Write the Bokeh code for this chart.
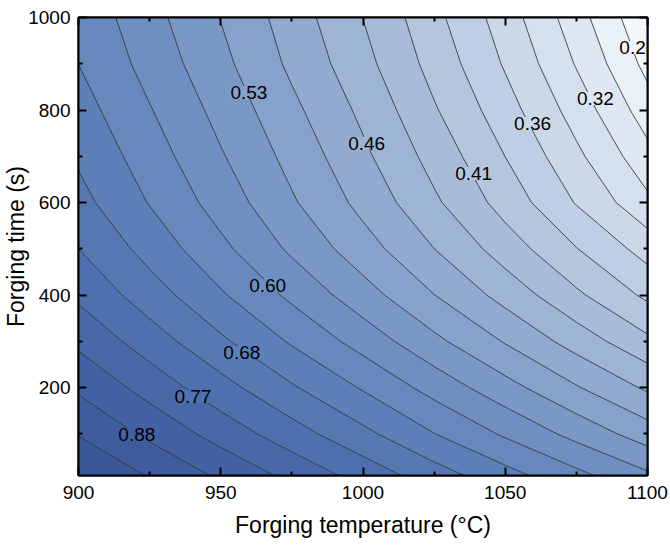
import numpy as np
from bokeh.plotting import figure
from bokeh.models import LinearAxis, Range1d, FixedTicker, ColumnDataSource
from bokeh.core.properties import value
from bokeh.embed import file_html
from bokeh.resources import INLINE

# ---- data ----
temperature = [900, 925, 950, 975, 1000, 1025, 1050, 1075, 1100]          # deg C (columns)
time_s = [10, 100, 200, 300, 400, 500, 600, 700, 800, 900, 1000]          # s (rows)
z_t10   = [0.995, 0.931, 0.867, 0.808, 0.753, 0.699, 0.652, 0.608, 0.567]
z_t100  = [0.931, 0.864, 0.801, 0.744, 0.690, 0.638, 0.592, 0.549, 0.509]
z_t200  = [0.867, 0.802, 0.741, 0.684, 0.633, 0.583, 0.538, 0.496, 0.458]
z_t300  = [0.811, 0.747, 0.687, 0.632, 0.582, 0.534, 0.491, 0.450, 0.413]
z_t400  = [0.762, 0.700, 0.642, 0.589, 0.540, 0.494, 0.452, 0.412, 0.377]
z_t500  = [0.724, 0.663, 0.607, 0.554, 0.507, 0.463, 0.421, 0.383, 0.349]
z_t600  = [0.693, 0.635, 0.581, 0.530, 0.484, 0.439, 0.397, 0.357, 0.320]
z_t700  = [0.673, 0.616, 0.564, 0.515, 0.469, 0.424, 0.382, 0.341, 0.302]
z_t800  = [0.654, 0.600, 0.549, 0.501, 0.456, 0.410, 0.368, 0.327, 0.286]
z_t900  = [0.637, 0.584, 0.535, 0.487, 0.443, 0.398, 0.356, 0.314, 0.272]
z_t1000 = [0.625, 0.573, 0.525, 0.478, 0.434, 0.389, 0.347, 0.304, 0.262]

# contour levels (ascending), with outer bounds
levels = [0.25, 0.2776, 0.2960, 0.3155, 0.3363, 0.3585, 0.3822, 0.4074, 0.4343,
          0.4629, 0.4935, 0.5260, 0.5607, 0.5977, 0.6372, 0.6792, 0.7240, 0.7718,
          0.8227, 0.8770, 0.9349, 1.01]

# contour labels
label_T = [920.5, 940.2, 957.4, 966.5, 959.9, 1001.3, 1038.9, 1059.6, 1081.7, 1096.6]
label_t = [98, 181, 276, 420, 838, 728, 663, 771, 825, 935]
label_text = ["0.88", "0.77", "0.68", "0.60", "0.53", "0.46", "0.41", "0.36", "0.32", "0.28"]
label_level = [0, 2, 4, 6, 8, 10, 12, 14, 16, 18]

x_ticks = [900, 950, 1000, 1050, 1100]
x_minor = [925, 975, 1025, 1075]
y_ticks = [200, 400, 600, 800, 1000]
y_minor = [100, 300, 500, 700, 900]

z = np.array([z_t10, z_t100, z_t200, z_t300, z_t400, z_t500,
              z_t600, z_t700, z_t800, z_t900, z_t1000])

# ---- colours (style) ----
anch_i = [-2, 1, 4, 7, 10, 13, 16, 19]
anch_rgb = np.array([(55, 85, 152), (68, 100, 165), (90, 124, 182), (115, 147, 196),
                     (152, 175, 210), (185, 202, 225), (218, 229, 240), (248, 250, 253)], float)
nb = len(levels) - 1
centers = [18.5 - j for j in range(nb)]
def col_at(ic):
    r = np.interp(ic, anch_i, anch_rgb[:, 0])
    g = np.interp(ic, anch_i, anch_rgb[:, 1])
    b = np.interp(ic, anch_i, anch_rgb[:, 2])
    return "#%02x%02x%02x" % (int(round(r)), int(round(g)), int(round(b)))
palette = [col_at(c) for c in centers]
label_bg = [col_at(k + 0.5) for k in label_level]

FONT = "Liberation Sans"

p = figure(width=670, height=545, x_range=Range1d(900, 1100), y_range=Range1d(10, 1000),
           output_backend="svg", toolbar_location=None,
           min_border_left=77, min_border_right=23, min_border_top=17, min_border_bottom=70,
           background_fill_color="white", border_fill_color="white")
p.grid.visible = False
p.outline_line_color = "black"
p.outline_line_width = 2

p.contour(x=temperature, y=time_s, z=z, levels=levels, fill_color=palette,
          line_color="#262626", line_width=0.8)

src = ColumnDataSource(dict(x=label_T, y=label_t, text=label_text, bg=label_bg))
p.text(x="x", y="y", text="text", source=src, text_font=value(FONT), text_font_size="19px",
       text_align="center", text_baseline="middle", text_color="black",
       background_fill_color="bg")

def style_axis(ax, ticks, minor, show_labels):
    ax.ticker = FixedTicker(ticks=ticks, minor_ticks=minor)
    ax.major_tick_in = 8
    ax.major_tick_out = 0
    ax.minor_tick_in = 4
    ax.minor_tick_out = 0
    ax.major_tick_line_width = 2
    ax.minor_tick_line_width = 2
    ax.axis_line_width = 2
    ax.axis_line_color = "black"
    ax.major_tick_line_color = "black"
    ax.minor_tick_line_color = "black"
    if show_labels:
        ax.major_label_text_font = FONT
        ax.major_label_text_font_size = "19px"
        ax.major_label_text_color = "black"
        ax.axis_label_text_font = FONT
        ax.axis_label_text_font_size = "23px"
        ax.axis_label_text_font_style = "normal"
        ax.axis_label_text_color = "black"
    else:
        ax.major_label_overrides = {float(t): "" for t in ticks}
        ax.major_label_standoff = 0

style_axis(p.xaxis[0], x_ticks, x_minor, True)
style_axis(p.yaxis[0], y_ticks, y_minor, True)
p.xaxis[0].major_label_standoff = 10
p.yaxis[0].major_label_standoff = 8
p.xaxis[0].axis_label = "Forging temperature (°C)"
p.yaxis[0].axis_label = "Forging time (s)"
p.xaxis[0].axis_label_standoff = 10
p.yaxis[0].axis_label_standoff = -4

top = LinearAxis()
right = LinearAxis()
style_axis(top, x_ticks, x_minor, False)
style_axis(right, y_ticks, y_minor, False)
p.add_layout(top, "above")
p.add_layout(right, "right")

open("out.html", "w").write(file_html(p, INLINE))
